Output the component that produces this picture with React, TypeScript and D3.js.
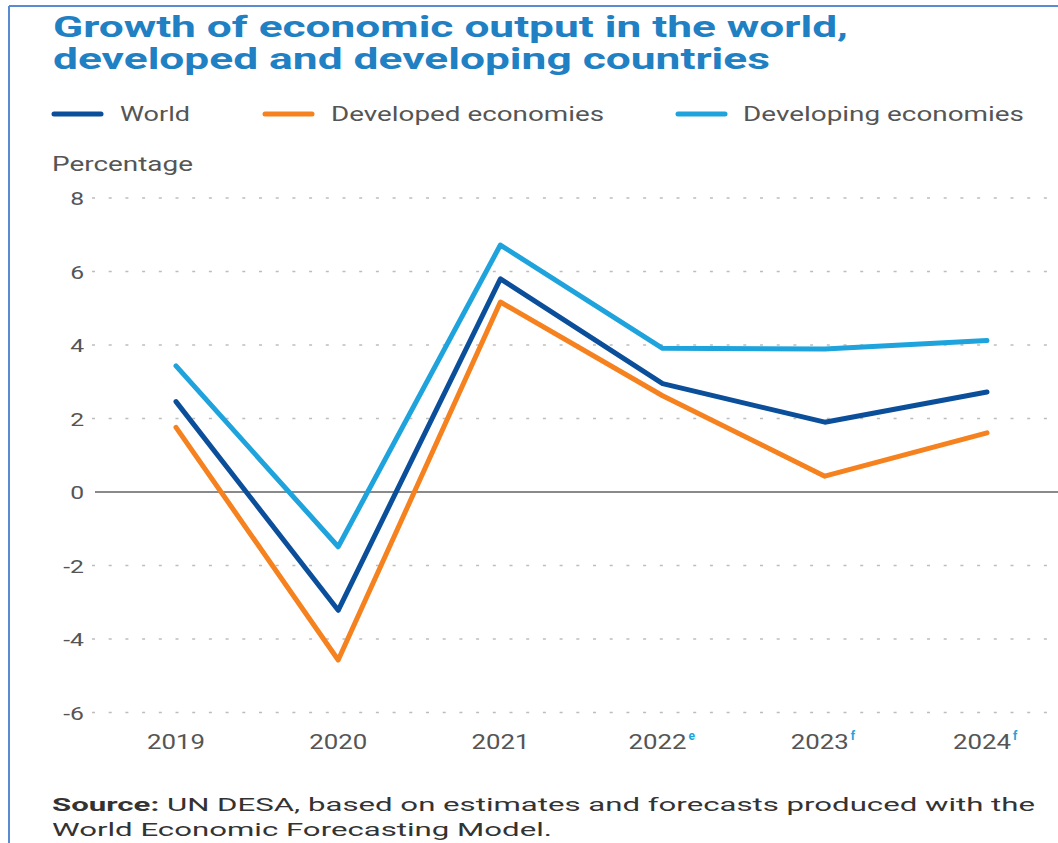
import React from "react";
import * as d3 from "d3";

const years = ["2019", "2020", "2021", "2022", "2023", "2024"];
const yearMarks = ["", "", "", "e", "f", "f"];
const worldValues = [2.46, -3.22, 5.8, 2.95, 1.9, 2.72];
const developedValues = [1.76, -4.57, 5.17, 2.62, 0.43, 1.61];
const developingValues = [3.43, -1.49, 6.72, 3.91, 3.89, 4.12];
const yTicks = [8, 6, 4, 2, 0, -2, -4, -6];
const seriesNames = ["World", "Developed economies", "Developing economies"];
const seriesColors = ["#0b4f9b", "#f5821f", "#1ea3dc"];

const W = 1058;
const H = 843;

export default function App() {
  const x = d3.scalePoint<string>().domain(years).range([176, 987]);
  const y = d3.scaleLinear().domain([-6, 8]).range([712.5, 198]);
  const line = d3
    .line<number>()
    .x((_, i) => x(years[i]) as number)
    .y((d) => y(d));
  const series = [worldValues, developedValues, developingValues];

  const legendItems = [
    { lx: 52, tx: 120, tw: 70 },
    { lx: 263, tx: 331, tw: 273 },
    { lx: 676, tx: 743, tw: 281 },
  ];

  return (
    <div style={{ width: W, height: H, position: "absolute", left: 0, top: 0 }}>
      <svg width={W} height={H} style={{ display: "block", background: "#fff" }}>
        {/* frame */}
        <line x1={9} y1={6} x2={W} y2={6} stroke="#5a8ad0" strokeWidth={2} />
        <line x1={9} y1={6} x2={9} y2={H} stroke="#5a8ad0" strokeWidth={2} />

        {/* title */}
        <g fontFamily="Roboto, 'Noto Sans', sans-serif" fontWeight="bold" fill="#1f80c3" fontSize={29}>
          <text x={53} y={37} textLength={795} lengthAdjust="spacingAndGlyphs">
            Growth of economic output in the world,
          </text>
          <text x={53} y={69} textLength={717} lengthAdjust="spacingAndGlyphs">
            developed and developing countries
          </text>
        </g>

        {/* legend */}
        <g fontFamily="Roboto, 'Noto Sans', sans-serif" fontSize={20} fill="#555">
          {seriesNames.map((n, i) => (
            <g key={n}>
              <line
                x1={legendItems[i].lx + 2}
                x2={legendItems[i].lx + 49}
                y1={114}
                y2={114}
                stroke={seriesColors[i]}
                strokeWidth={5}
                strokeLinecap="round"
              />
              <text x={legendItems[i].tx} y={121} textLength={legendItems[i].tw} lengthAdjust="spacingAndGlyphs">
                {n}
              </text>
            </g>
          ))}
        </g>

        {/* y label */}
        <text
          x={52}
          y={171}
          fontFamily="Roboto, 'Noto Sans', sans-serif"
          fontSize={21}
          fill="#555"
          textLength={141}
          lengthAdjust="spacingAndGlyphs"
        >
          Percentage
        </text>

        {/* grid */}
        {yTicks.map((t) =>
          t === 0 ? null : (
            <line
              key={"g" + t}
              x1={92}
              x2={W}
              y1={y(t)}
              y2={y(t)}
              stroke="#bdbdbd"
              strokeWidth={1.5}
              strokeDasharray="3,13.7"
            />
          )
        )}
        <line x1={95} x2={W} y1={y(0)} y2={y(0)} stroke="#8a8a8a" strokeWidth={2} />

        {/* y tick labels */}
        <g fontFamily="Roboto, 'Noto Sans', sans-serif" fontSize={19} fill="#555" textAnchor="end">
          {yTicks.map((t) => (
            <text
              key={"t" + t}
              transform={`translate(84,${y(t) + 7}) scale(1.3,1)`}
            >
              {t < 0 ? "-" + Math.abs(t) : String(t)}
            </text>
          ))}
        </g>

        {/* x labels */}
        <g fontFamily="Roboto, 'Noto Sans', sans-serif" fontSize={20} fill="#555">
          {years.map((yr, i) => {
            const cx = (x(yr) as number) - (yearMarks[i] ? 5 : 0);
            return (
              <g key={yr}>
                <text
                  x={cx - 29}
                  y={749}
                  textLength={58}
                  lengthAdjust="spacingAndGlyphs"
                >
                  {yr}
                </text>
                {yearMarks[i] && (
                  <text x={cx + 31} y={740} fontSize={12} fontWeight="bold" fill="#1ea3dc">
                    {yearMarks[i]}
                  </text>
                )}
              </g>
            );
          })}
        </g>

        {/* lines */}
        {series.map((s, i) => (
          <path
            key={seriesNames[i]}
            d={line(s) || ""}
            fill="none"
            stroke={seriesColors[i]}
            strokeWidth={5}
            strokeLinejoin="round"
            strokeLinecap="round"
          />
        ))}

        {/* source */}
        <g fontFamily="Roboto, 'Noto Sans', sans-serif" fontSize={19} fill="#333">
          <text x={52} y={811} textLength={983} lengthAdjust="spacingAndGlyphs">
            <tspan fontWeight="bold">Source:</tspan> UN DESA, based on estimates and forecasts produced with the
          </text>
          <text x={52} y={836} textLength={500} lengthAdjust="spacingAndGlyphs">
            World Economic Forecasting Model.
          </text>
        </g>
      </svg>
    </div>
  );
}
